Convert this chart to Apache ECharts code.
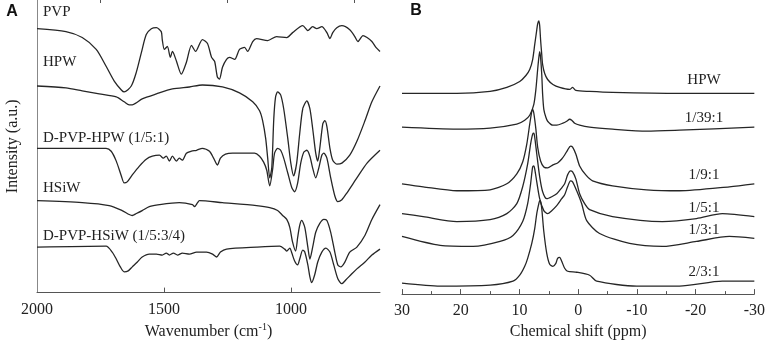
<!DOCTYPE html>
<html>
<head>
<meta charset="utf-8">
<script src="https://cdn.jsdelivr.net/npm/echarts@6/dist/echarts.min.js"></script>
<style>
  html, body { margin: 0; padding: 0; background: #fff; }
  #main { width: 768px; height: 345px; }
</style>
</head>
<body>
<div id="main"></div>
<script>
// panel A: FTIR, [wavenumber, intensity a.u.]
const pvp = [[2000,267],[1886,264],[1822,258],[1767,246],[1728,229],[1696,214],[1668,205],[1657,203],[1629,209],[1609,223],[1589,243],[1570,261],[1550,267],[1530,268],[1511,264],[1507,256],[1499,246],[1487,249],[1475,238],[1467,244],[1451,234],[1432,221],[1412,233],[1392,250],[1376,244],[1349,256],[1329,252],[1313,238],[1301,234],[1290,218],[1282,216],[1270,228],[1254,236],[1242,238],[1222,236],[1203,246],[1183,248],[1171,244],[1151,254],[1136,257],[1092,255],[1057,259],[1017,258],[994,263],[954,270],[934,265],[915,269],[899,267],[879,269],[859,263],[847,257],[836,263],[820,268],[800,270],[769,266],[749,259],[737,254],[717,260],[701,258],[682,254],[666,248],[650,244]]
const hpwA = [[2000,209],[1886,207],[1822,204],[1755,201],[1688,198],[1657,193],[1637,190],[1625,190],[1609,192],[1586,196],[1530,201],[1467,206],[1400,208],[1349,210],[1270,208],[1203,202],[1151,193],[1124,184],[1112,174],[1100,156],[1092,136],[1084,116],[1076,126],[1068,176],[1061,198],[1053,203],[1041,200],[1029,186],[1013,156],[1001,131],[990,118],[978,131],[966,161],[954,186],[938,194],[926,186],[915,166],[903,141],[895,133],[887,146],[875,171],[867,174],[859,168],[847,146],[836,134],[820,130],[800,131],[769,139],[741,153],[709,174],[682,193],[650,209]]
const dPvpHpw = [[2000,146],[1834,146],[1728,146],[1708,143],[1688,133],[1668,118],[1657,111],[1645,112],[1625,119],[1597,128],[1570,135],[1546,138],[1518,139],[1503,136],[1491,138],[1479,133],[1467,138],[1451,133],[1440,136],[1428,134],[1412,141],[1392,143],[1372,144],[1349,146],[1321,143],[1305,136],[1290,129],[1278,136],[1258,140],[1230,141],[1183,141],[1144,141],[1124,138],[1108,132],[1096,124],[1084,108],[1072,126],[1065,141],[1053,146],[1041,144],[1029,136],[1013,121],[997,106],[986,102],[974,111],[962,131],[950,142],[938,144],[926,138],[915,126],[903,116],[891,126],[879,139],[871,141],[859,136],[844,116],[828,98],[816,92],[800,94],[780,101],[741,116],[701,131],[650,144]]
const hsiw = [[2000,93],[1822,91],[1716,88],[1665,83],[1637,79],[1625,78],[1609,80],[1586,83],[1558,87],[1518,89],[1440,91],[1388,89],[1380,87],[1368,91],[1361,93],[1270,91],[1136,88],[1084,86],[1053,83],[1033,78],[1017,74],[1005,66],[994,51],[982,42],[974,56],[966,68],[958,73],[946,66],[934,46],[926,34],[915,46],[903,61],[887,70],[871,74],[859,73],[844,61],[828,41],[816,28],[804,26],[788,31],[769,41],[741,46],[709,58],[682,74],[650,89]]
const dPvpHsiw = [[2000,46],[1728,47],[1704,41],[1688,34],[1672,26],[1657,21],[1641,22],[1625,26],[1605,31],[1586,36],[1558,39],[1530,39],[1507,38],[1491,40],[1479,38],[1463,40],[1447,38],[1428,40],[1400,39],[1372,41],[1333,41],[1309,39],[1293,36],[1278,41],[1254,44],[1136,46],[1045,47],[1025,44],[1017,42],[1005,45],[997,40],[986,32],[974,28],[966,34],[954,43],[946,41],[934,28],[926,16],[919,10],[907,18],[895,31],[879,41],[863,45],[847,41],[832,28],[816,14],[800,9],[784,13],[761,19],[741,24],[709,31],[682,38],[650,44]]

// panel B: NMR, [ppm, intensity a.u.]
const nmrHpw = [[30,202],[20.65,202],[15,204],[12.15,208],[9.95,214],[8.9,220],[8.25,226],[7.75,236],[7.4,251],[7.05,266],[6.9,272],[6.7,275],[6.55,270],[6.4,256],[6.2,241],[6.05,231],[5.7,222],[5.2,216],[4.3,211],[3.15,208],[1.45,206],[0.95,208],[0.4,205],[-1.95,204],[-5.85,203],[-17.25,202],[-30,202]]
const nmr1_39 = [[30,168],[20.65,166],[15,167],[10.45,171],[9.1,175],[8.25,180],[7.55,191],[7.2,206],[6.9,226],[6.7,238],[6.55,244],[6.4,238],[6.2,221],[6.05,201],[5.85,186],[5.5,178],[5.2,174],[4.3,170],[3.65,170],[2.6,172],[1.95,174],[1.45,176],[1.1,175],[0.6,172],[-0.25,170],[-1.95,168],[-5.85,166],[-11.65,164],[-17.25,165],[-30,168]]
const nmr1_9 = [[30,111],[26.4,108],[20.65,104],[15,105],[12.15,111],[10.45,121],[9.45,133],[8.75,151],[8.25,171],[7.9,184],[7.75,186],[7.55,182],[7.2,166],[6.9,148],[6.4,134],[5.85,128],[5.2,127],[4.3,130],[3.5,132],[2.8,136],[2.3,140],[1.8,145],[1.3,149],[0.95,148],[0.4,141],[-0.25,129],[-1.3,120],[-2.45,114],[-5.85,109],[-11.65,105],[-17.25,104],[-25.75,108],[-30,111]]
const nmr1_5 = [[30,81],[26.4,78],[20.65,73],[15,75],[12.15,81],[10.45,91],[9.45,108],[8.6,131],[8.1,151],[7.75,161],[7.55,162],[7.4,158],[7.05,141],[6.55,118],[6.05,103],[5.35,96],[4.5,98],[3.65,101],[2.8,107],[2.3,111],[1.8,120],[1.3,124],[0.95,123],[0.4,116],[-0.25,101],[-1.1,91],[-1.95,85],[-5.85,78],[-14.35,73],[-20.15,76],[-24.55,81],[-30,78]]
const nmr1_3 = [[30,58],[23.5,49],[17.9,48],[13.3,53],[11.1,59],[9.45,73],[8.6,91],[8.1,111],[7.75,128],[7.55,129],[7.4,126],[7.05,113],[6.55,96],[5.85,84],[5.2,81],[4.5,84],[3.65,89],[2.8,96],[2.3,100],[1.8,108],[1.3,114],[0.95,113],[0.25,104],[-0.6,91],[-1.45,74],[-3.65,61],[-8.75,51],[-14.35,48],[-20.15,53],[-25.75,58],[-30,56]]
const nmr2_3 = [[30,11],[23.5,8],[15,9],[11.1,13],[9.95,19],[9.1,28],[8.6,36],[7.9,51],[7.4,66],[7.05,81],[6.7,91],[6.55,94],[6.4,93],[6.2,86],[5.85,63],[5.35,41],[4.85,30],[4.3,28],[3.8,31],[3.5,36],[3.15,37],[2.8,33],[2.3,26],[1.8,23],[0.25,22],[-1.95,19],[-3.15,13],[-9.95,8],[-17.25,8],[-24.55,13],[-30,13]]

const labelsA = ['PVP', 'HPW', 'D-PVP-HPW (1/5:1)', 'HSiW', 'D-PVP-HSiW (1/5:3/4)']
const labelsB = ['HPW', '1/39:1', '1/9:1', '1/5:1', '1/3:1', '2/3:1']
const ticksA = [2000, 1500, 1000]
const minorTicksA = [1750, 1250, 750]

const chart = echarts.init(document.getElementById('main'))
const serif = 'Liberation Serif'
const lineCol = '#262626'

let lineSeries = (data, xi, yi) => ({
  type: 'line',
  data: data,
  xAxisIndex: xi,
  yAxisIndex: yi,
  showSymbol: false,
  smooth: 0.25,
  silent: true,
  lineStyle: { color: lineCol, width: 1.3 }
})

const labelYA = [12, 62, 138, 188, 236]
const labelYB = [80, 118, 175, 208, 230, 272]
let graphics = [
  { type: 'text', x: 12, y: 12, style: { text: 'A', font: 'bold 16px "Liberation Sans"', fill: '#111', align: 'center', verticalAlign: 'middle' } },
  { type: 'text', x: 416, y: 11, style: { text: 'B', font: 'bold 16px "Liberation Sans"', fill: '#111', align: 'center', verticalAlign: 'middle' } }
]
labelsA.forEach((t, i) => {
  graphics.push({ type: 'text', x: 43, y: labelYA[i], style: { text: t, font: '15px "' + serif + '"', fill: '#222', align: 'left', verticalAlign: 'middle' } })
})
labelsB.forEach((t, i) => {
  graphics.push({ type: 'text', x: 704, y: labelYB[i], style: { text: t, font: '15px "' + serif + '"', fill: '#222', align: 'center', verticalAlign: 'middle' } })
})

let option = {
  backgroundColor: '#fff',
  animation: false,
  grid: [
    { left: 37, right: 388, top: -1, bottom: 50 },
    { left: 402, right: 13, top: -1, bottom: 50 }
  ],
  xAxis: [{
    gridIndex: 0, type: 'value', min: 650, max: 2000, inverse: true,
    name: 'Wavenumber (cm{s|-1})', nameLocation: 'middle', nameGap: 27,
    nameTextStyle: { fontFamily: serif, fontSize: 16, color: '#222', rich: { s: { fontFamily: serif, fontSize: 10, padding: [0, 0, 9, 0], color: '#222' } } },
    axisLine: { lineStyle: { color: '#555' } },
    axisTick: { inside: true, length: 5, customValues: ticksA.slice(1), lineStyle: { color: '#555' } },
    axisLabel: { customValues: ticksA, formatter: v => String(v), fontFamily: serif, fontSize: 16, color: '#222', margin: 9 },
    splitLine: { show: false }
  }, {
    gridIndex: 0, type: 'value', min: 650, max: 2000, inverse: true,
    axisLine: { show: false },
    axisTick: { inside: true, length: 3, customValues: minorTicksA, lineStyle: { color: '#555' } },
    axisLabel: { show: false },
    splitLine: { show: false }
  }, {
    gridIndex: 1, type: 'value', min: -30, max: 30, interval: 10, inverse: true,
    name: 'Chemical shift (ppm)', nameLocation: 'middle', nameGap: 27,
    nameTextStyle: { fontFamily: serif, fontSize: 16, color: '#222' },
    axisLine: { lineStyle: { color: '#555' } },
    axisTick: { inside: true, length: 5, lineStyle: { color: '#555' } },
    minorTick: { show: true, splitNumber: 2, length: 3, lineStyle: { color: '#555' } },
    axisLabel: { formatter: v => String(v), fontFamily: serif, fontSize: 16, color: '#222', margin: 9 },
    splitLine: { show: false }
  }],
  yAxis: [{
    gridIndex: 0, type: 'value', min: 0, max: 296,
    name: 'Intensity (a.u.)', nameLocation: 'middle', nameGap: 16,
    nameTextStyle: { fontFamily: serif, fontSize: 16, color: '#222' },
    axisLine: { show: true, lineStyle: { color: '#888' } },
    axisTick: { show: false }, axisLabel: { show: false }, splitLine: { show: false }
  }, {
    gridIndex: 1, type: 'value', min: 0, max: 296, show: false
  }],
  graphic: graphics,
  series: [
    lineSeries(pvp, 0, 0),
    lineSeries(hpwA, 0, 0),
    lineSeries(dPvpHpw, 0, 0),
    lineSeries(hsiw, 0, 0),
    lineSeries(dPvpHsiw, 0, 0),
    lineSeries(nmrHpw, 2, 1),
    lineSeries(nmr1_39, 2, 1),
    lineSeries(nmr1_9, 2, 1),
    lineSeries(nmr1_5, 2, 1),
    lineSeries(nmr1_3, 2, 1),
    lineSeries(nmr2_3, 2, 1)
  ]
}
chart.setOption(option)
</script>
</body>
</html>
